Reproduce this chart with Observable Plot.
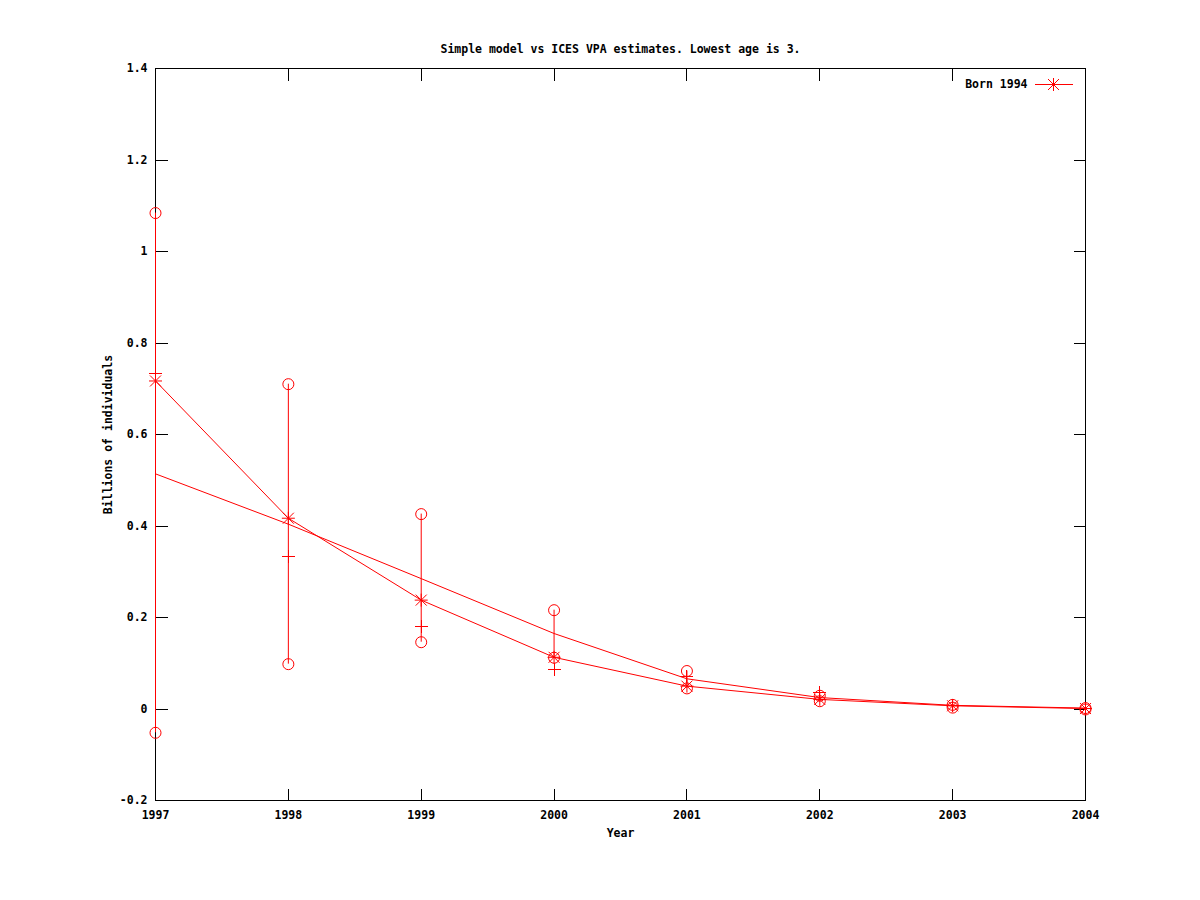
<!DOCTYPE html>
<html>
<head>
<meta charset="utf-8">
<script src="https://cdn.jsdelivr.net/npm/d3@7"></script>
<script src="https://cdn.jsdelivr.net/npm/@observablehq/plot@0.6"></script>
<style>
  html, body { margin: 0; padding: 0; background: #ffffff; }
  #chart svg { display: block; }
</style>
</head>
<body>
<div id="chart"></div>
<script>
// ---- Data ----
const years = [1997, 1998, 1999, 2000, 2001, 2002, 2003, 2004];
// Model curve with star markers (legend "Born 1994")
const modelStar = [0.717, 0.417, 0.238, 0.113, 0.050, 0.021, 0.007, 0.001];
// Second curve, no markers
const modelPlain = [0.514, 0.404, 0.285, 0.165, 0.066, 0.025, 0.008, 0.002];
// ICES VPA estimates (plus markers)
const vpaEstimate = [0.733, 0.334, 0.181, 0.087, 0.070, 0.036, 0.008, 0.001];
// Lower / upper bounds (circles joined by vertical bars)
const lowerBound = [-0.052, 0.098, 0.146, 0.112, 0.045, 0.017, 0.003, -0.001];
const upperBound = [1.084, 0.710, 0.426, 0.216, 0.083, 0.029, 0.009, 0.002];

const yTicks = [-0.2, 0, 0.2, 0.4, 0.6, 0.8, 1.0, 1.2, 1.4];
const xTicks = years;

const titleText = "Simple model vs ICES VPA estimates. Lowest age is 3.";
const xLabel = "Year";
const yLabel = "Billions of individuals";
const legendLabel = "Born 1994";

// ---- Tables built from the arrays ----
const rows = years.map((year, i) => ({
  year,
  star: modelStar[i],
  plain: modelPlain[i],
  vpa: vpaEstimate[i],
  lo: lowerBound[i],
  hi: upperBound[i]
}));

// ---- Custom symbols (gnuplot-like point types) ----
const starSym = { draw(c) {
  c.moveTo(-6.5, 0); c.lineTo(6.5, 0);
  c.moveTo(0, -6.5); c.lineTo(0, 6.5);
  c.moveTo(-5.5, -5.5); c.lineTo(5.5, 5.5);
  c.moveTo(-5.5, 5.5); c.lineTo(5.5, -5.5);
}};
const plusSym = { draw(c) {
  c.moveTo(-6.5, 0); c.lineTo(6.5, 0);
  c.moveTo(0, -6.5); c.lineTo(0, 6.5);
}};
const tickLeft = { draw(c) { c.moveTo(0, 0); c.lineTo(12, 0); } };
const tickRight = { draw(c) { c.moveTo(0, 0); c.lineTo(-12, 0); } };
const tickTop = { draw(c) { c.moveTo(0, 0); c.lineTo(0, 12); } };
const tickBottom = { draw(c) { c.moveTo(0, 0); c.lineTo(0, -12); } };
const legendLine = { draw(c) { c.moveTo(-19, 0); c.lineTo(19, 0); } };

const RED = "#ff0000";
const FONT = "'DejaVu Sans Mono', 'Liberation Mono', monospace";
const FS = 11.5;
const textStyle = { fontFamily: FONT, fontSize: FS, fontWeight: "bold", fill: "black", lineAnchor: "middle" };

const chart = Plot.plot({
  width: 1200,
  height: 900,
  marginLeft: 155,
  marginRight: 115,
  marginTop: 68,
  marginBottom: 100,
  style: { background: "white", color: "black", fontFamily: FONT, fontSize: FS + "px", fontWeight: "bold" },
  x: { domain: [1997, 2004], ticks: xTicks, tickFormat: d => String(d) },
  y: { domain: [-0.2, 1.4], ticks: yTicks, tickFormat: d => String(+d.toFixed(1)) },
  marks: [
    Plot.frame({ stroke: "black", strokeWidth: 1, shapeRendering: "crispEdges" }),
    Plot.axisY(yTicks, { anchor: "left", tickSize: 0, tickPadding: 8, label: null, tickFormat: d => String(+d.toFixed(1)), fontSize: FS, fontFamily: FONT, fontWeight: "bold" }),
    Plot.axisX(xTicks, { anchor: "bottom", tickSize: 0, tickPadding: 10, label: null, tickFormat: d => String(d), fontSize: FS, fontFamily: FONT, fontWeight: "bold" }),
    // inward ticks on all four sides
    Plot.dot(yTicks, { y: d => d, frameAnchor: "left", symbol: tickLeft, fill: "none", stroke: "black", strokeWidth: 1, shapeRendering: "crispEdges" }),
    Plot.dot(yTicks, { y: d => d, frameAnchor: "right", symbol: tickRight, fill: "none", stroke: "black", strokeWidth: 1, shapeRendering: "crispEdges" }),
    Plot.dot(xTicks, { x: d => d, frameAnchor: "top", symbol: tickTop, fill: "none", stroke: "black", strokeWidth: 1, shapeRendering: "crispEdges" }),
    Plot.dot(xTicks, { x: d => d, frameAnchor: "bottom", symbol: tickBottom, fill: "none", stroke: "black", strokeWidth: 1, shapeRendering: "crispEdges" }),
    // error bars between bounds
    Plot.ruleX(rows, { x: "year", y1: "lo", y2: "hi", stroke: RED, strokeWidth: 1 }),
    Plot.dot(rows, { x: "year", y: "lo", r: 5.5, fill: "none", stroke: RED, strokeWidth: 1 }),
    Plot.dot(rows, { x: "year", y: "hi", r: 5.5, fill: "none", stroke: RED, strokeWidth: 1 }),
    // VPA estimates
    Plot.dot(rows, { x: "year", y: "vpa", symbol: plusSym, fill: "none", stroke: RED, strokeWidth: 1, shapeRendering: "crispEdges" }),
    // plain model curve
    Plot.line(rows, { x: "year", y: "plain", stroke: RED, strokeWidth: 1 }),
    // star model curve
    Plot.line(rows, { x: "year", y: "star", stroke: RED, strokeWidth: 1 }),
    Plot.dot(rows, { x: "year", y: "star", symbol: starSym, fill: "none", stroke: RED, strokeWidth: 1 }),
    // title & axis labels
    Plot.text([titleText], { text: d => d, frameAnchor: "top", dy: -19, textAnchor: "middle", ...textStyle }),
    Plot.text([xLabel], { text: d => d, frameAnchor: "bottom", dy: 33, textAnchor: "middle", ...textStyle }),
    Plot.text([yLabel], { text: d => d, frameAnchor: "left", dx: -47, rotate: -90, textAnchor: "middle", ...textStyle }),
    // legend
    Plot.text([legendLabel], { text: d => d, frameAnchor: "top-right", dx: -58, dy: 16, textAnchor: "end", ...textStyle }),
    Plot.dot([legendLabel], { frameAnchor: "top-right", dx: -32, dy: 16, symbol: legendLine, fill: "none", stroke: RED, strokeWidth: 1, shapeRendering: "crispEdges" }),
    Plot.dot([legendLabel], { frameAnchor: "top-right", dx: -32, dy: 16, symbol: starSym, fill: "none", stroke: RED, strokeWidth: 1 })
  ]
});

document.getElementById("chart").appendChild(chart);
</script>
</body>
</html>
